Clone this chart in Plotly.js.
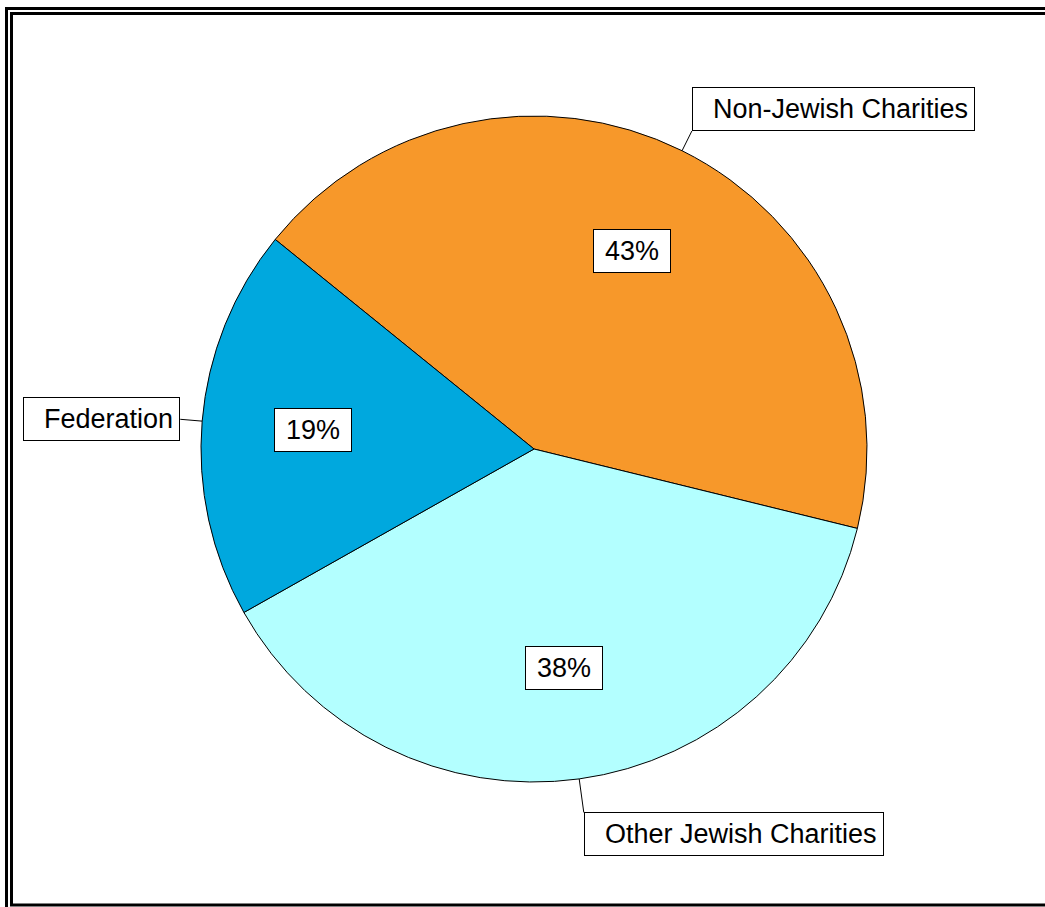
<!DOCTYPE html>
<html>
<head>
<meta charset="utf-8">
<script src="https://cdn.plot.ly/plotly-3.0.1.min.js"></script>
<style>html,body{margin:0;padding:0;background:#fff;}#chart{width:1045px;height:907px;}</style>
</head>
<body>
<div id="chart"></div>
<script>
// ---- data ----
const categories = ['Non-Jewish Charities', 'Other Jewish Charities', 'Federation'];
const shares = [43, 38, 19];
const sliceColors = ['#F7982A', '#B3FFFF', '#00A8DE'];

// ---- layout constants ----
const W = 1045, H = 907;
const CX = 534, CY = 449, R = 333;
const START = -51;
const FONT = '"Liberation Sans", Arial, sans-serif';
const FS = 27;

function px(x) { return x / W; }
function py(y) { return 1 - y / H; }

const ctx = document.createElement('canvas').getContext('2d');
ctx.font = FS + 'px "Liberation Sans"';
function tw(s) { return ctx.measureText(s).width; }

const total = shares.reduce((a, b) => a + b, 0);
let ang = START;
const annotations = [], shapes = [];

// double frame
shapes.push({type: 'rect', xref: 'paper', yref: 'paper', x0: px(6.5), x1: px(1070), y0: py(8.5), y1: py(930), line: {color: '#000', width: 3}, layer: 'above'});
shapes.push({type: 'rect', xref: 'paper', yref: 'paper', x0: px(11.5), x1: px(1070), y0: py(13.5), y1: py(905), line: {color: '#000', width: 3}, layer: 'above'});

shares.forEach((v, i) => {
  const span = v / total * 360;
  const mid = (ang + span / 2) * Math.PI / 180;
  ang += span;
  const s = Math.sin(mid), c = Math.cos(mid);
  const ri = 0.665 * R;
  const pct = Math.round(v / total * 100) + '%';
  annotations.push({
    x: px(CX + ri * s), y: py(CY - ri * c), xref: 'paper', yref: 'paper',
    text: pct, showarrow: false,
    font: {family: FONT, size: FS, color: '#000'},
    bgcolor: '#fff', bordercolor: '#000', borderwidth: 1, borderpad: 6,
    width: tw(pct) + 10, xanchor: 'center', yanchor: 'middle', align: 'center'
  });
  const ex = CX + R * s, ey = CY - R * c;
  const ro = R + 22 + 12 * Math.max(0, -c);
  const ax = CX + ro * s, ay = CY - ro * c;
  shapes.push({type: 'line', xref: 'paper', yref: 'paper', x0: px(ex), y0: py(ey), x1: px(ax), y1: py(ay), line: {color: '#000', width: 1}});
  annotations.push({
    x: px(ax), y: py(ay), xref: 'paper', yref: 'paper',
    text: categories[i], showarrow: false,
    font: {family: FONT, size: FS, color: '#000'},
    bgcolor: '#fff', bordercolor: '#000', borderwidth: 1, borderpad: 6,
    width: tw(categories[i]) + 14, align: 'right',
    xanchor: s >= 0 ? 'left' : 'right',
    yanchor: Math.abs(c) < 0.3 ? 'middle' : (c > 0 ? 'bottom' : 'top')
  });
});

const trace = {
  type: 'pie',
  labels: categories,
  values: shares,
  marker: {colors: sliceColors, line: {color: '#000', width: 1}},
  textinfo: 'none',
  sort: false,
  direction: 'clockwise',
  rotation: START,
  hoverinfo: 'skip',
  showlegend: false,
  domain: {x: [(CX - R) / W, (CX + R) / W], y: [1 - (CY + R) / H, 1 - (CY - R) / H]}
};

const layout = {
  width: W, height: H,
  margin: {l: 0, r: 0, t: 0, b: 0},
  paper_bgcolor: '#fff',
  showlegend: false,
  annotations: annotations,
  shapes: shapes
};

Plotly.newPlot('chart', [trace], layout, {staticPlot: true, displayModeBar: false});
</script>
</body>
</html>
